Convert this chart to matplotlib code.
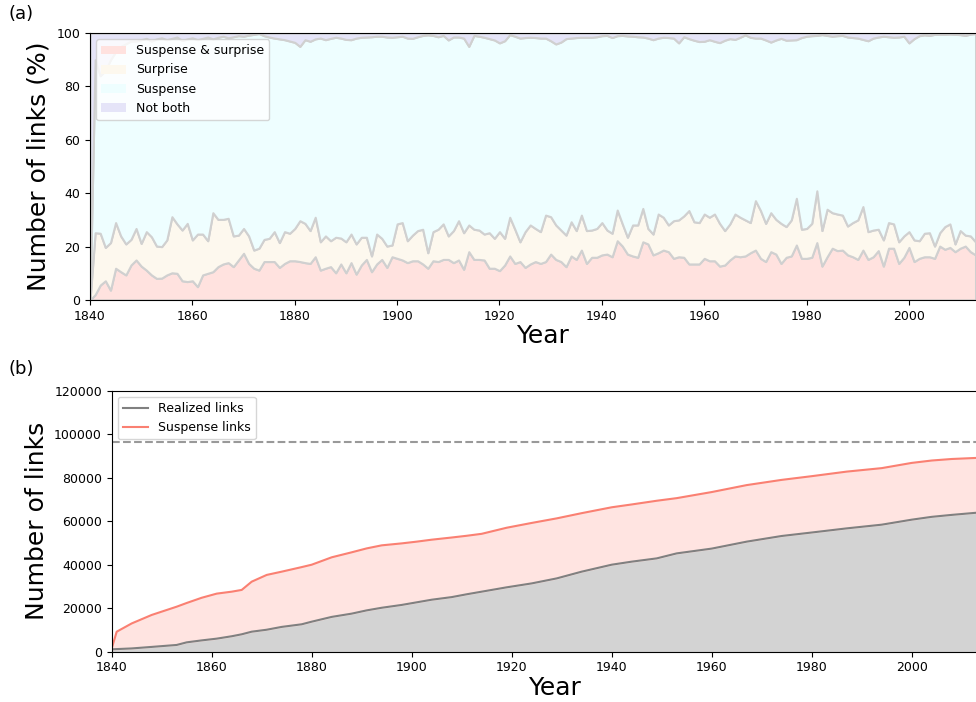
import numpy as np
import matplotlib
matplotlib.use('Agg')
import matplotlib.pyplot as plt
from matplotlib.patches import Patch

# ---- panel (a): yearly share of links ----
years = np.arange(1840, 2014)

# cumulative boundary: suspense & surprise (bottom band top)
both_pct = [
    0, 2, 5.6, 7.2, 3.7, 11.9, 10.6, 9.4, 13.1, 15,
    12.7, 11.2, 9.4, 8.1, 8.2, 9.4, 10.2, 10, 7.2, 6.9,
    7.2, 5, 9.4, 10, 10.6, 12.5, 13.5, 14, 12.5, 15,
    17.5, 13.7, 11.9, 11.2, 14.4, 14.4, 14.4, 12.2, 13.7, 14.7,
    14.7, 14.4, 14, 13.7, 16.2, 11.2, 11.9, 12.5, 10.2, 13.5,
    10.2, 14, 9.7, 13.1, 15.2, 10.6, 13.5, 15.2, 12.2, 16.2,
    15.6, 15, 14, 14.7, 14.7, 13.5, 11.9, 14.7, 14.4, 15.2,
    15.2, 14, 15, 11.5, 18.1, 15.2, 15.2, 15, 11.9, 11.9,
    11, 13.1, 16.5, 13.7, 14.4, 12.2, 13.5, 14.4, 13.7, 14.4,
    17.2, 15.2, 14.4, 12.5, 16.5, 15.2, 18.7, 13.7, 16, 16,
    16.9, 17.2, 16.2, 22.2, 20.2, 17.2, 16.5, 16, 21.8, 21,
    16.9, 17.7, 18.7, 18.1, 15.6, 16.2, 16, 13.5, 13.5, 13.5,
    15.6, 14.7, 14.7, 12.7, 13.1, 15, 16.5, 16.2, 16.5, 17.7,
    18.7, 15.6, 14.4, 18.1, 17.2, 13.7, 16, 16.5, 20.6, 15.6,
    15.6, 16, 21.5, 12.7, 16.2, 19.4, 18.5, 18.7, 16.9, 16.2,
    15.2, 18.7, 15.2, 16.2, 18.5, 12.7, 19.4, 19.4, 13.7, 16,
    19.7, 14.4, 15.6, 16.2, 16.2, 15.6, 20.2, 19, 19.7, 18.1,
    19.4, 20.2, 18.1, 16.9,
]

# cumulative boundary: top of the surprise band
surprise_top = [
    0, 25.2, 25, 19.7, 21.5, 29, 24, 21, 22.7, 26.8,
    21.2, 25.6, 23.7, 20.2, 20, 22.5, 31.2, 28.5, 26.2, 28.7,
    22.5, 24.7, 24.7, 22.2, 32.7, 30.2, 30.2, 30.6, 24, 24.3,
    26.8, 24, 18.7, 19.4, 22.7, 23.1, 25.6, 21.5, 25.6, 25,
    26.8, 29.7, 28.7, 26, 31, 21.8, 24, 22.2, 23.5, 23.2,
    21.8, 24.7, 21, 23.5, 23.5, 16.5, 24.7, 23.1, 20.2, 20.6,
    28.5, 29, 22.2, 24.3, 26, 26.5, 17.7, 25.6, 26.5, 28.5,
    24, 26, 29.7, 25.2, 28.1, 26.5, 26.2, 24.7, 25.2, 23.1,
    25.6, 23.1, 31, 26.5, 21.8, 25.6, 28.1, 26.8, 25.6, 31.8,
    31.2, 28.1, 26.2, 24.3, 29.3, 26, 31.8, 26, 26.2, 26.8,
    29, 26.2, 25, 33.7, 28.5, 23.5, 28.1, 28.1, 34.3, 26.8,
    24.7, 32.2, 31, 28.1, 29.7, 30, 31.5, 33.5, 29.3, 29,
    32.2, 31, 32.2, 28.7, 26, 28.5, 32.2, 31, 30, 29,
    37.2, 33.5, 28.7, 32.7, 30.2, 28.7, 27.5, 30, 38.1, 26.5,
    26.8, 28.7, 40.9, 26, 34, 32.7, 32.2, 31.8, 27.7, 29,
    30, 35, 25.6, 26.2, 26.5, 22.5, 29, 28.5, 21.8, 24,
    25.6, 22.5, 22.2, 25, 25.2, 20.2, 25.2, 27.5, 28.5, 21,
    26, 24.3, 24, 21.8,
]

# share with neither suspense nor surprise (gap below 100 %)
not_both_pct = [
    100, 10, 16, 14, 10, 7, 5, 4, 3, 3,
    2.5, 2, 3, 2.2, 1.8, 2.5, 2, 1.5, 2.8, 2.2,
    1.8, 2.5, 2, 1.5, 2.2, 1.6, 1.2, 1.8, 1.4, 1,
    1.2, 0.8, 0.5, 0.2, 1, 1.5, 1.9, 2.2, 2.5, 3,
    3.5, 5, 2.5, 3.1, 2.2, 1.9, 2.5, 2, 1.6, 1.9,
    2.4, 2.5, 1.9, 1.6, 1.5, 1.4, 1.2, 1.2, 1.5, 1.6,
    1.4, 1.2, 1.9, 2, 1.4, 0.9, 0.7, 0.9, 1.4, 0.9,
    2.6, 1.5, 1.5, 1.9, 5, 0.9, 1.2, 1.6, 2.1, 2.6,
    3.7, 2.9, 0.6, 1.2, 1.9, 1.7, 1.6, 1.7, 1.9, 1.9,
    2.9, 4.1, 3.4, 2.1, 1.9, 1.7, 1.6, 1.6, 1.6, 1.4,
    1, 0.9, 1.7, 1, 0.9, 1.1, 1.2, 1.4, 1.5, 1.9,
    2.5, 1.9, 1.6, 1.7, 1.9, 3.7, 1.4, 2.1, 2.7, 3.2,
    3.1, 2.5, 3.1, 3.6, 2.7, 2.1, 2.4, 1.6, 0.7, 1.6,
    1.9, 1.9, 2.6, 3.4, 2.6, 2, 2.7, 2.6, 2.5, 1.7,
    1.2, 1, 0.9, 0.6, 0.9, 1.2, 1, 0.9, 1.5, 1.7,
    1.9, 2.4, 2.9, 1.9, 1.5, 1.2, 1.4, 1.6, 1.5, 1.2,
    3.7, 2.1, 1, 0.7, 0.9, 0.5, 0.5, 0.5, 0.4, 0.5,
    0.6, 0.9, 0.4, 0.2,
]

# ---- panel (b): cumulative number of links (thousands) ----
link_years = [1840, 1841, 1844, 1848, 1853, 1855, 1858, 1861, 1864, 1866,
              1868, 1871, 1874, 1878, 1880, 1884, 1888, 1891, 1894, 1898,
              1901, 1904, 1908, 1911, 1914, 1919, 1924, 1929, 1934, 1940,
              1944, 1949, 1953, 1960, 1967, 1974, 1980, 1987, 1994, 2000,
              2004, 2008, 2013]
realized_k = [1.1, 1.2, 1.5, 2.2, 3.1, 4.3, 5.2, 6.0, 7.1, 8.0,
              9.2, 10.1, 11.4, 12.6, 13.8, 16.0, 17.5, 19.0, 20.2, 21.5,
              22.7, 23.9, 25.1, 26.4, 27.6, 29.6, 31.4, 33.7, 36.8, 40.0,
              41.4, 42.9, 45.2, 47.4, 50.6, 53.2, 54.8, 56.7, 58.4, 60.7,
              62.0, 62.9, 63.9]
suspense_k = [1.5, 9.2, 13.0, 16.9, 20.7, 22.4, 24.8, 26.7, 27.6, 28.4,
              32.2, 35.3, 36.8, 38.9, 40.0, 43.4, 45.7, 47.5, 48.9, 49.8,
              50.6, 51.5, 52.5, 53.3, 54.2, 57.0, 59.2, 61.3, 63.7, 66.4,
              67.7, 69.4, 70.6, 73.4, 76.6, 79.0, 80.7, 82.8, 84.4, 86.8,
              87.9, 88.6, 89.1]
possible_links = 96300

labels_a = ['Suspense & surprise', 'Surprise', 'Suspense', 'Not both']
colors_a = ['#ffe2df', '#fdf8ee', '#eefeff', '#e5e4f8']

both = np.array(both_pct)
top_s = np.array(surprise_top)
nb = np.array(not_both_pct)
surprise = top_s - both
suspense = 100 - nb - top_s

fig = plt.figure(figsize=(9.76, 7.02), dpi=100)
W, H = 976.0, 702.0

# (a) -- axes run past the right edge like the cropped original
ax1 = fig.add_axes([90 / W, (H - 300) / H, 906 / W, 267 / H])
ax1.stackplot(years, both, surprise, suspense, nb, colors=colors_a,
              edgecolor='#d0d0d0', linewidth=1.5)
ax1.set_xlim(1840, 2017)
ax1.set_ylim(0, 100)
ax1.set_xticks(range(1840, 2020, 20))
ax1.set_yticks(range(0, 101, 20))
ax1.tick_params(labelsize=9)
ax1.set_xlabel('Year', fontsize=18, labelpad=1)
ax1.set_ylabel('Number of links (%)', fontsize=18, labelpad=4)
handles = [Patch(facecolor=c, edgecolor='none') for c in colors_a]
ax1.legend(handles, labels_a, loc='upper left', fontsize=9)
fig.text(8 / W, 1 - 5 / H, '(a)', fontsize=13, va='top')

# (b)
ax2 = fig.add_axes([111.7 / W, (H - 651.7) / H, 885 / W, 261 / H])
yr = np.array(link_years)
real = np.array(realized_k) * 1000
susp = np.array(suspense_k) * 1000
ax2.fill_between(yr, 0, real, color='lightgrey')
ax2.fill_between(yr, real, susp, color='mistyrose')
ax2.plot(yr, real, color='grey', lw=1.5, label='Realized links')
ax2.plot(yr, susp, color='salmon', lw=1.5, label='Suspense links')
ax2.axhline(possible_links, color='#999999', ls='--', lw=1.5)
ax2.set_xlim(1840, 2017)
ax2.set_ylim(0, 120000)
ax2.set_xticks(range(1840, 2020, 20))
ax2.set_yticks(range(0, 120001, 20000))
ax2.tick_params(labelsize=9)
ax2.set_xlabel('Year', fontsize=18, labelpad=1)
ax2.set_ylabel('Number of links', fontsize=18, labelpad=4)
ax2.legend(loc='upper left', fontsize=9)
fig.text(8 / W, 1 - 360 / H, '(b)', fontsize=13, va='top')

fig.savefig('out.png', dpi=100)
